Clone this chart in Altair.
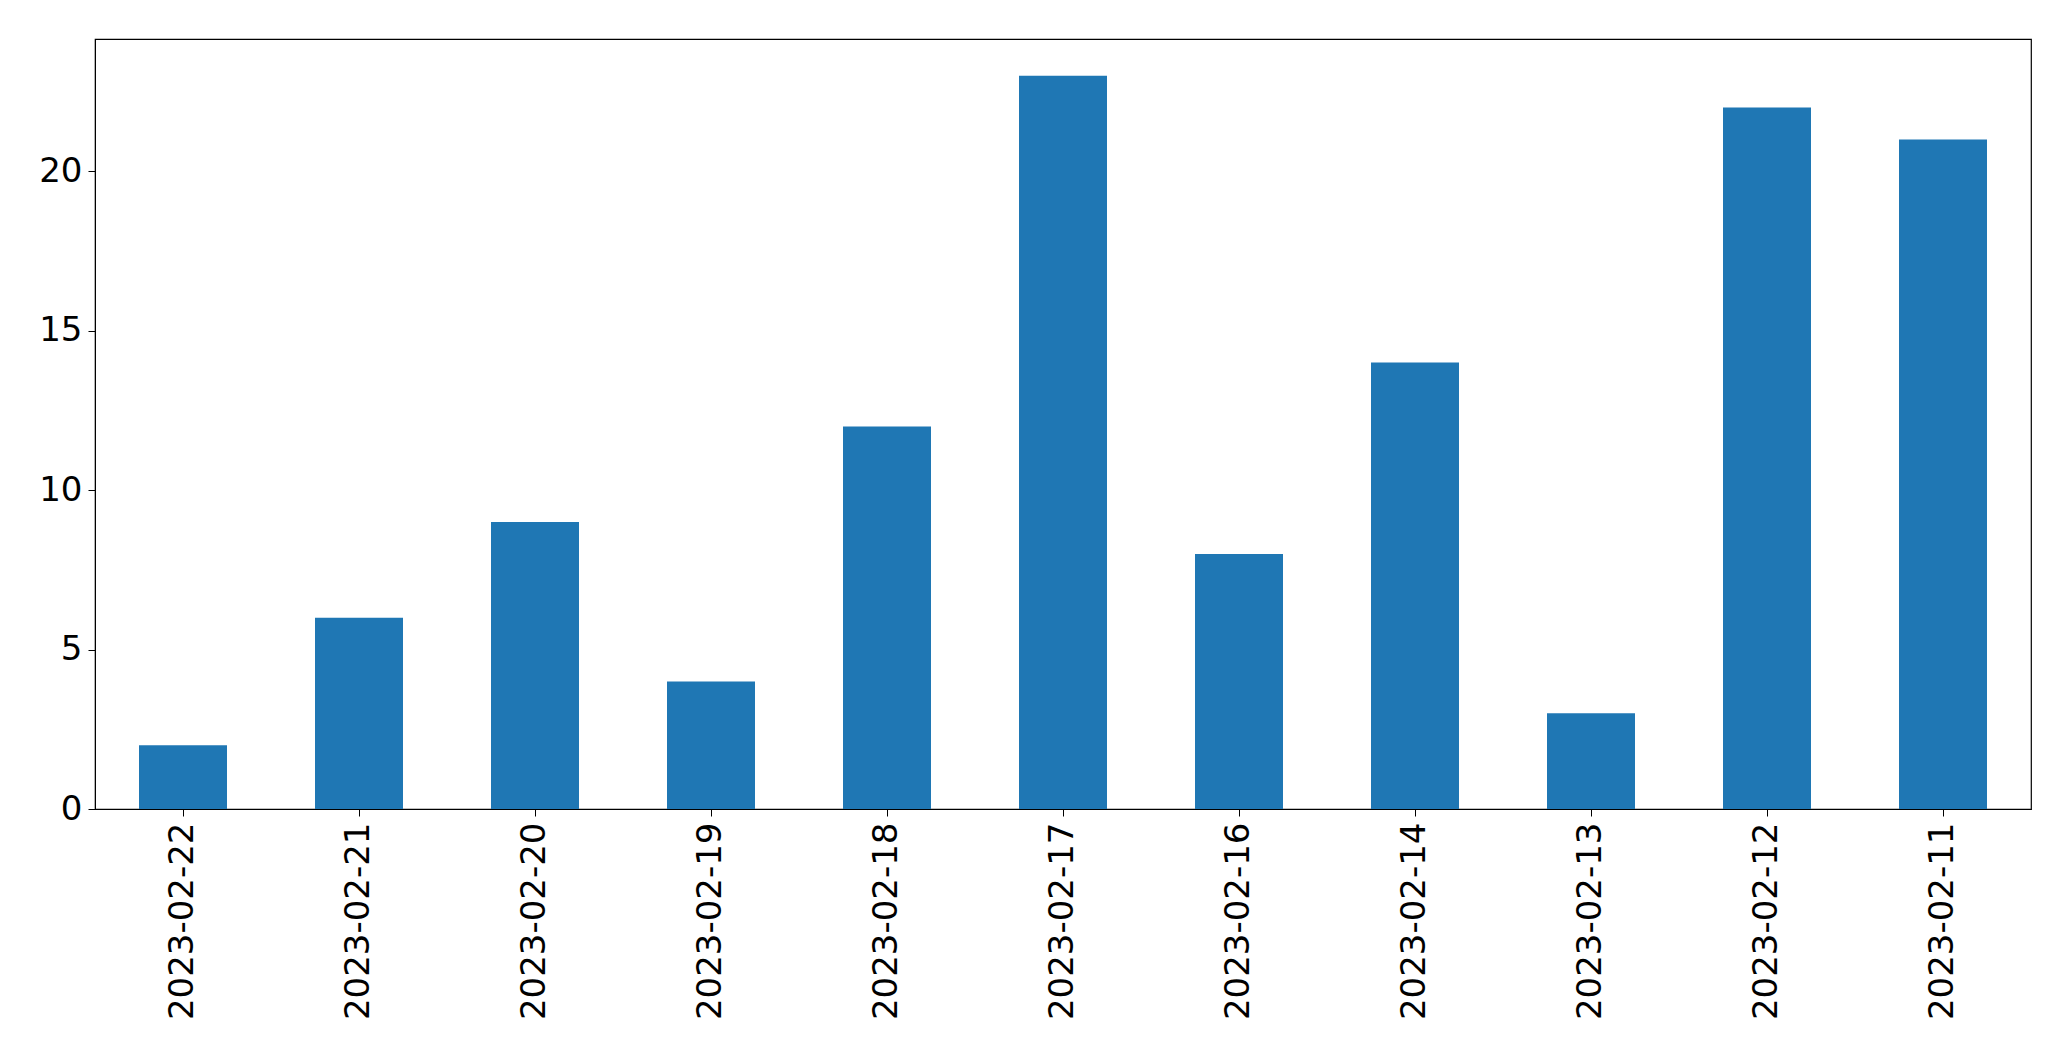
import altair as alt
import pandas as pd

dates = ["2023-02-22", "2023-02-21", "2023-02-20", "2023-02-19", "2023-02-18",
         "2023-02-17", "2023-02-16", "2023-02-14", "2023-02-13", "2023-02-12",
         "2023-02-11"]
counts = [2, 6, 9, 4, 12, 23, 8, 14, 3, 22, 21]

df = pd.DataFrame({"date": dates, "count": counts})

chart = alt.Chart(df).mark_bar(color="#1f77b4").encode(
    x=alt.X("date:N", sort=None, title=None,
            scale=alt.Scale(paddingInner=0.5, paddingOuter=0.25),
            axis=alt.Axis(labelAngle=270, labelAlign="right", labelBaseline="middle",
                          labelFontSize=34, labelFont="DejaVu Sans", labelColor="black",
                          labelLimit=0, labelOverlap=False,
                          tickColor="black", tickSize=7, tickWidth=1, labelPadding=6,
                          domainColor="black", domainWidth=1)),
    y=alt.Y("count:Q", title=None,
            scale=alt.Scale(domain=[0, 24.15], nice=False, zero=True),
            axis=alt.Axis(values=[0, 5, 10, 15, 20], grid=False,
                          labelFontSize=34, labelFont="DejaVu Sans", labelColor="black",
                          tickColor="black", tickSize=7, tickWidth=1, labelPadding=6,
                          domainColor="black", domainWidth=1)),
).properties(
    width=1936, height=770,
    autosize=alt.AutoSizeParams(type="none"),
    padding={"left": 87, "top": 31, "right": 30, "bottom": 240},
    background="white",
).configure_view(stroke="black", strokeWidth=1.2)

chart.save("out.html", embed_options={"renderer": "svg", "actions": False})
